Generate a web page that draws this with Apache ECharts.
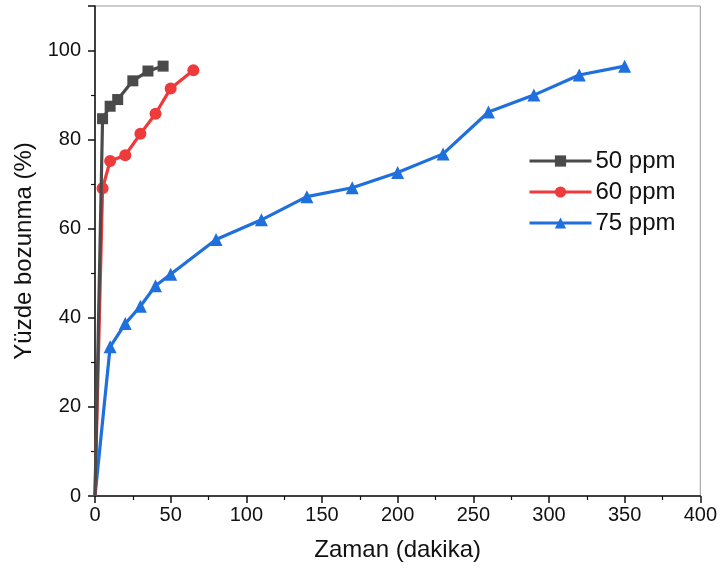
<!DOCTYPE html>
<html>
<head>
<meta charset="utf-8">
<script src="https://cdn.jsdelivr.net/npm/echarts@6/dist/echarts.min.js"></script>
<style>html,body{margin:0;padding:0;background:#fff}#c{width:720px;height:576px}</style>
</head>
<body>
<div id="c"></div>
<script>
const seriesNames = ['50 ppm', '60 ppm', '75 ppm'];
const x50 = [0, 5, 10, 15, 25, 35, 45];
const y50 = [0, 84.7, 87.5, 89.0, 93.2, 95.4, 96.5];
const x60 = [0, 5, 10, 20, 30, 40, 50, 65];
const y60 = [0, 69.1, 75.2, 76.5, 81.3, 85.8, 91.5, 95.6];
const x75 = [0, 10, 20, 30, 40, 50, 80, 110, 140, 170, 200, 230, 260, 290, 320, 350];
const y75 = [0, 33.5, 38.7, 42.6, 47.2, 49.8, 57.6, 62.0, 67.2, 69.2, 72.6, 76.8, 86.2, 90.0, 94.5, 96.5];
const xTitle = 'Zaman (dakika)';
const yTitle = 'Yüzde bozunma (%)';

const colors = ['#4a4a4a', '#ee3a3a', '#1f6fdc'];
const symbols = ['rect', 'circle', 'triangle'];
const sizes = [11, 12, 13];
const xs = [x50, x60, x75], ys = [y50, y60, y75];

const font = 'Liberation Sans, Arial, sans-serif';
const chart = echarts.init(document.getElementById('c'));
chart.setOption({
  animation: false,
  backgroundColor: '#fff',
  grid: { left: 95, right: 19, top: 6, bottom: 80, show: true, borderColor: '#9a9a9a', borderWidth: 1 },
  legend: {
    data: seriesNames,
    orient: 'vertical',
    left: 523, top: 144,
    itemWidth: 62, itemHeight: 14, itemGap: 7,
    lineStyle: { width: 3 },
    textStyle: { fontFamily: font, fontSize: 24, color: '#111', padding: [0, 0, 0, -1] }
  },
  xAxis: {
    type: 'value', min: 0, max: 400, interval: 50,
    name: xTitle, nameLocation: 'middle', nameGap: 42,
    nameTextStyle: { fontFamily: font, fontSize: 24, color: '#111' },
    axisLine: { show: true, lineStyle: { color: '#111', width: 1.5 } },
    axisTick: { show: true, inside: false, length: 7, lineStyle: { color: '#111', width: 1.5 } },
    minorTick: { show: true, splitNumber: 2, length: 4, lineStyle: { color: '#111', width: 1.2 } },
    axisLabel: { fontFamily: font, fontSize: 20, color: '#111', margin: 9 },
    splitLine: { show: false }
  },
  yAxis: {
    type: 'value', min: 0, max: 110, interval: 20,
    name: yTitle, nameLocation: 'middle', nameGap: 55,
    nameTextStyle: { fontFamily: font, fontSize: 24, color: '#111' },
    axisLine: { show: true, lineStyle: { color: '#111', width: 1.5 } },
    axisTick: { show: true, inside: false, length: 7, lineStyle: { color: '#111', width: 1.5 } },
    minorTick: { show: true, splitNumber: 2, length: 4, lineStyle: { color: '#111', width: 1.2 } },
    axisLabel: { fontFamily: font, fontSize: 20, color: '#111', margin: 14,
      formatter: v => v > 100 ? '' : String(v) },
    splitLine: { show: false }
  },
  series: seriesNames.map((n, k) => ({
    name: n, type: 'line',
    symbol: symbols[k], symbolSize: sizes[k],
    itemStyle: { color: colors[k] },
    lineStyle: { color: colors[k], width: 3.2 },
    data: xs[k].map((v, i) => i === 0 ? { value: [v, ys[k][i]], symbol: 'none' } : [v, ys[k][i]]),
    z: 3 - k
  }))
});
</script>
</body>
</html>
